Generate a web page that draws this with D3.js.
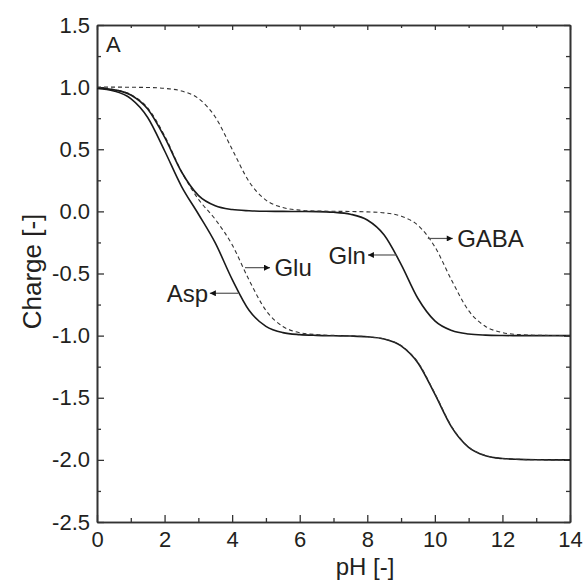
<!DOCTYPE html>
<html>
<head>
<meta charset="utf-8">
<script src="https://cdn.jsdelivr.net/npm/d3@7"></script>
<style>
  body { margin: 0; background: #fff; }
  svg text { font-family: "Liberation Sans", Arial, sans-serif; fill: #231f20; }
</style>
</head>
<body>
<div id="chart"></div>
<script>
// pH grid the curves were read at
const pH = [0, 0.5, 1, 1.5, 2, 2.5, 3, 3.5, 4, 4.5, 5, 5.5, 6, 6.5, 7,
            7.5, 8, 8.5, 9, 9.5, 10, 10.5, 11, 11.5, 12, 12.5, 13, 13.5, 14];

// charge values
const asp  = [0.990, 0.969, 0.908, 0.756, 0.488, 0.202, -0.021, -0.254, -0.547, -0.796,
              -0.925, -0.976, -0.992, -0.998, -1.001, -1.003, -1.009, -1.027, -1.082, -1.220,
              -1.471, -1.738, -1.899, -1.966, -1.989, -1.996, -1.999, -2.0, -2.0];
const glu  = [0.994, 0.980, 0.940, 0.833, 0.609, 0.321, 0.099, -0.064, -0.269, -0.552,
              -0.797, -0.926, -0.976, -0.992, -0.998, -1.002, -1.009, -1.027, -1.080, -1.215,
              -1.465, -1.733, -1.897, -1.965, -1.989, -1.996, -1.999, -2.0, -2.0];
const gln  = [0.993, 0.979, 0.937, 0.824, 0.597, 0.319, 0.129, 0.045, 0.015, 0.005,
              0.001, 0.0, -0.001, -0.002, -0.007, -0.023, -0.069, -0.190, -0.426, -0.701,
              -0.881, -0.959, -0.987, -0.996, -0.999, -1.0, -1.0, -1.0, -1.0];
const gaba = [1.0, 1.0, 0.999, 0.997, 0.990, 0.969, 0.909, 0.760, 0.500, 0.240,
              0.091, 0.031, 0.010, 0.003, 0.001, -0.001, -0.004, -0.012, -0.038, -0.112,
              -0.285, -0.557, -0.799, -0.926, -0.975, -0.992, -0.997, -0.999, -1.0];

const series = [
  { name: "Asp",  values: asp,  dashed: false },
  { name: "Glu",  values: glu,  dashed: true },
  { name: "Gln",  values: gln,  dashed: false },
  { name: "GABA", values: gaba, dashed: true }
];

// labels with arrows: y level, arrow from (x0) to (x1), text at tx
const labels = [
  { text: "Asp",  y: -0.659, x0: 4.18, x1: 3.34, tx: 3.29, anchor: "end" },
  { text: "Glu",  y: -0.453, x0: 4.38, x1: 5.12, tx: 5.25, anchor: "start" },
  { text: "Gln",  y: -0.351, x0: 8.87, x1: 8.02, tx: 7.96, anchor: "end" },
  { text: "GABA", y: -0.218, x0: 9.79, x1: 10.53, tx: 10.66, anchor: "start" }
];

const xTicks = [0, 2, 4, 6, 8, 10, 12, 14];
const xMinor = [1, 3, 5, 7, 9, 11, 13];
const yTicks = [-2.5, -2.0, -1.5, -1.0, -0.5, 0.0, 0.5, 1.0, 1.5];
const yMinor = [-2.25, -1.75, -1.25, -0.75, -0.25, 0.25, 0.75, 1.25];

const width = 584, height = 581;
const margin = { top: 25, right: 14, bottom: 59, left: 97 };

const svg = d3.select("#chart").append("svg")
  .attr("width", width)
  .attr("height", height);

const x = d3.scaleLinear().domain([0, 14]).range([margin.left, width - margin.right]);
const y = d3.scaleLinear().domain([-2.5, 1.5]).range([height - margin.bottom, margin.top]);

const axisColor = "#333";
const fmt = d => d.toFixed(1);

// major axes, ticks pointing inward
svg.append("g")
  .attr("transform", `translate(0,${y(-2.5)})`)
  .call(d3.axisBottom(x).tickValues(xTicks).tickFormat(d => d).tickSizeInner(-7).tickSizeOuter(0).tickPadding(9));
svg.append("g")
  .attr("transform", `translate(${x(0)},0)`)
  .call(d3.axisLeft(y).tickValues(yTicks).tickFormat(fmt).tickSizeInner(-7).tickSizeOuter(0).tickPadding(7));
svg.append("g")
  .attr("transform", `translate(0,${y(1.5)})`)
  .call(d3.axisTop(x).tickValues(xTicks).tickFormat("").tickSizeInner(-5).tickSizeOuter(0));
svg.append("g")
  .attr("transform", `translate(${x(14)},0)`)
  .call(d3.axisRight(y).tickValues(yTicks).tickFormat("").tickSizeInner(-6).tickSizeOuter(0));

// minor ticks
svg.append("g").attr("transform", `translate(0,${y(-2.5)})`)
  .call(d3.axisBottom(x).tickValues(xMinor).tickFormat("").tickSizeInner(-4).tickSizeOuter(0));
svg.append("g").attr("transform", `translate(${x(0)},0)`)
  .call(d3.axisLeft(y).tickValues(yMinor).tickFormat("").tickSizeInner(-4).tickSizeOuter(0));
svg.append("g").attr("transform", `translate(0,${y(1.5)})`)
  .call(d3.axisTop(x).tickValues(xMinor).tickFormat("").tickSizeInner(-3).tickSizeOuter(0));
svg.append("g").attr("transform", `translate(${x(14)},0)`)
  .call(d3.axisRight(y).tickValues(yMinor).tickFormat("").tickSizeInner(-4).tickSizeOuter(0));

svg.selectAll(".domain").attr("stroke", axisColor).attr("stroke-width", 1.6);
svg.selectAll(".tick line").attr("stroke", axisColor).attr("stroke-width", 1.3);
svg.selectAll(".tick text").attr("font-size", 22).attr("fill", "#231f20")
  .style("font-family", "'Liberation Sans', Arial, sans-serif");

// axis titles
svg.append("text")
  .attr("x", 365).attr("y", 575)
  .attr("text-anchor", "middle")
  .attr("font-size", 24)
  .text("pH [-]");
svg.append("text")
  .attr("transform", `translate(41,${(y(1.5) + y(-2.5)) / 2 - 2}) rotate(-90)`)
  .attr("text-anchor", "middle")
  .attr("font-size", 26)
  .text("Charge [-]");

// panel letter
svg.append("text")
  .attr("x", x(0) + 9).attr("y", y(1.5) + 27)
  .attr("font-size", 22)
  .text("A");

// curves
const line = d3.line()
  .x((d, i) => x(pH[i]))
  .y(d => y(d))
  .curve(d3.curveMonotoneX);

svg.append("g").selectAll("path")
  .data(series)
  .join("path")
  .attr("d", d => line(d.values))
  .attr("fill", "none")
  .attr("stroke", d => d.dashed ? "#333" : "#1a1a1a")
  .attr("stroke-width", d => d.dashed ? 1.1 : 1.6)
  .attr("stroke-dasharray", d => d.dashed ? "4,3" : null);

// arrowhead
svg.append("defs").append("marker")
  .attr("id", "arrow")
  .attr("viewBox", "0 0 10 10")
  .attr("refX", 10).attr("refY", 5)
  .attr("markerWidth", 9).attr("markerHeight", 6)
  .attr("markerUnits", "userSpaceOnUse")
  .attr("orient", "auto")
  .append("path")
  .attr("d", "M0,0L10,5L0,10Z")
  .attr("fill", "#111");

const ann = svg.append("g").selectAll("g").data(labels).join("g");
ann.append("line")
  .attr("x1", d => x(d.x0)).attr("x2", d => x(d.x1))
  .attr("y1", d => y(d.y)).attr("y2", d => y(d.y))
  .attr("stroke", "#555").attr("stroke-width", 1.2)
  .attr("marker-end", "url(#arrow)");
ann.append("text")
  .attr("x", d => x(d.tx)).attr("y", d => y(d.y))
  .attr("dy", "0.36em")
  .attr("text-anchor", d => d.anchor)
  .attr("font-size", 24)
  .text(d => d.text);
</script>
</body>
</html>
